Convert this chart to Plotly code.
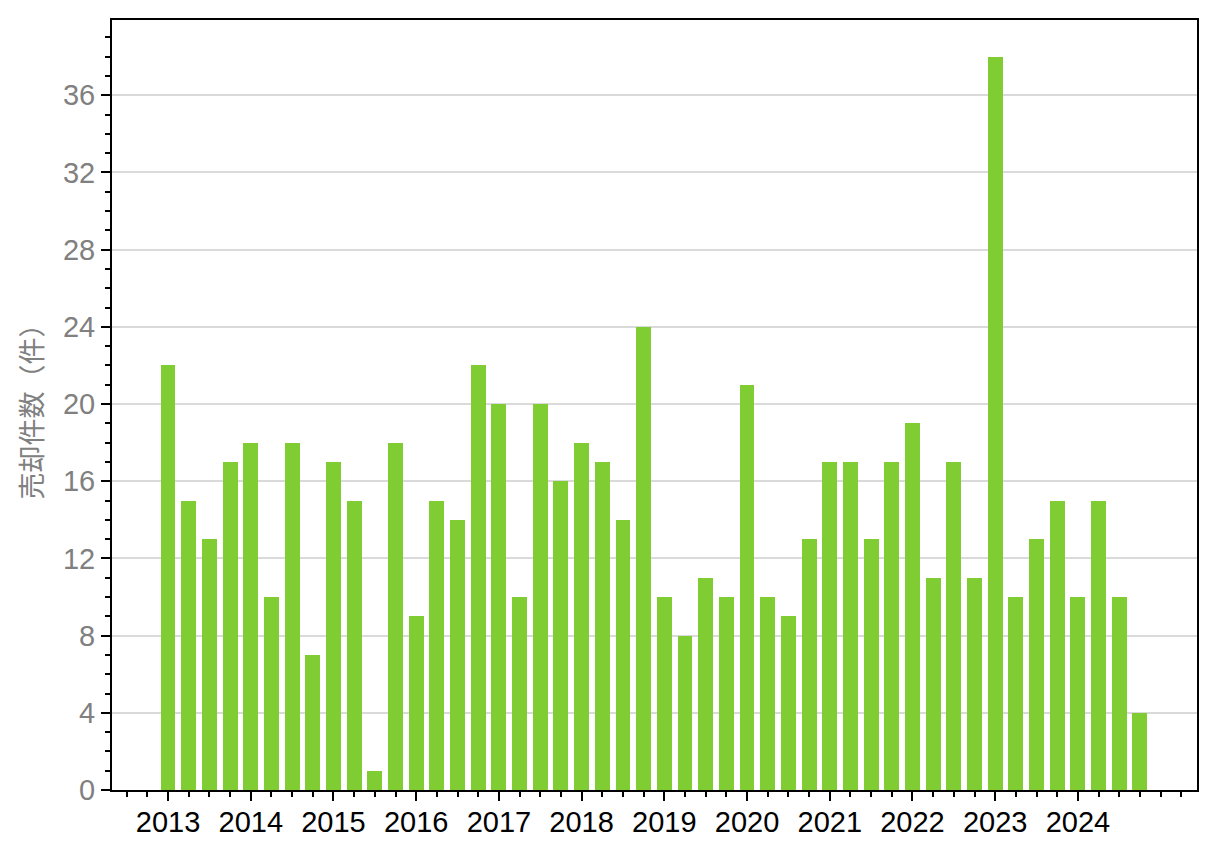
import plotly.graph_objects as go

years = [2013, 2014, 2015, 2016, 2017, 2018, 2019, 2020, 2021, 2022, 2023, 2024]
# Quarterly sales counts (Q1..Q4 for each year)
sales = [
    22, 15, 13, 17,
    18, 10, 18, 7,
    17, 15, 1, 18,
    9, 15, 14, 22,
    20, 10, 20, 16,
    18, 17, 14, 24,
    10, 8, 11, 10,
    21, 10, 9, 13,
    17, 17, 13, 17,
    19, 11, 17, 11,
    38, 10, 13, 15,
    10, 15, 10, 4,
]
y_title = "売却件数（件）"

x_idx = list(range(len(sales)))
tick_vals = [i * 4 for i in range(len(years))]
tick_text = [str(y) for y in years]

fig = go.Figure()
fig.add_trace(go.Bar(
    x=x_idx, y=sales, width=0.72,
    marker=dict(color="#80cc33", line=dict(width=0)),
))

tick_font = dict(family="Liberation Sans, Arial, sans-serif", size=29)

fig.update_layout(
    width=1200, height=839,
    margin=dict(l=104, r=11, t=12, b=57, autoexpand=False),
    plot_bgcolor="white", paper_bgcolor="white",
    showlegend=False,
    bargap=0,
    xaxis=dict(
        range=[-2.71, 49.76],
        tickmode="array", tickvals=tick_vals, ticktext=tick_text,
        ticks="outside", ticklen=9, tickwidth=2, tickcolor="black",
        tickfont=dict(color="black", **tick_font),
        ticklabelstandoff=-4,
        showline=True, linecolor="black", linewidth=2, mirror=True,
        showgrid=False, zeroline=False,
        minor=dict(tickmode="linear", tick0=0, dtick=1, ticks="outside",
                   ticklen=5, tickwidth=1.5, tickcolor="black", showgrid=False),
    ),
    yaxis=dict(
        range=[0, 39.9],
        tickmode="linear", tick0=0, dtick=4,
        ticks="outside", ticklen=9, tickwidth=2, tickcolor="black",
        tickfont=dict(color="#808080", **tick_font),
        showline=True, linecolor="black", linewidth=2, mirror=True,
        showgrid=True, gridcolor="#dadada", gridwidth=1.5,
        zeroline=False,
        minor=dict(tickmode="linear", tick0=0, dtick=1, ticks="outside",
                   ticklen=5, tickwidth=1.5, tickcolor="black", showgrid=False),
        title=dict(text=y_title, font=dict(family="Noto Sans CJK JP", size=27, color="#808080"),
                   standoff=12),
    ),
)

fig.write_html("out.html")
